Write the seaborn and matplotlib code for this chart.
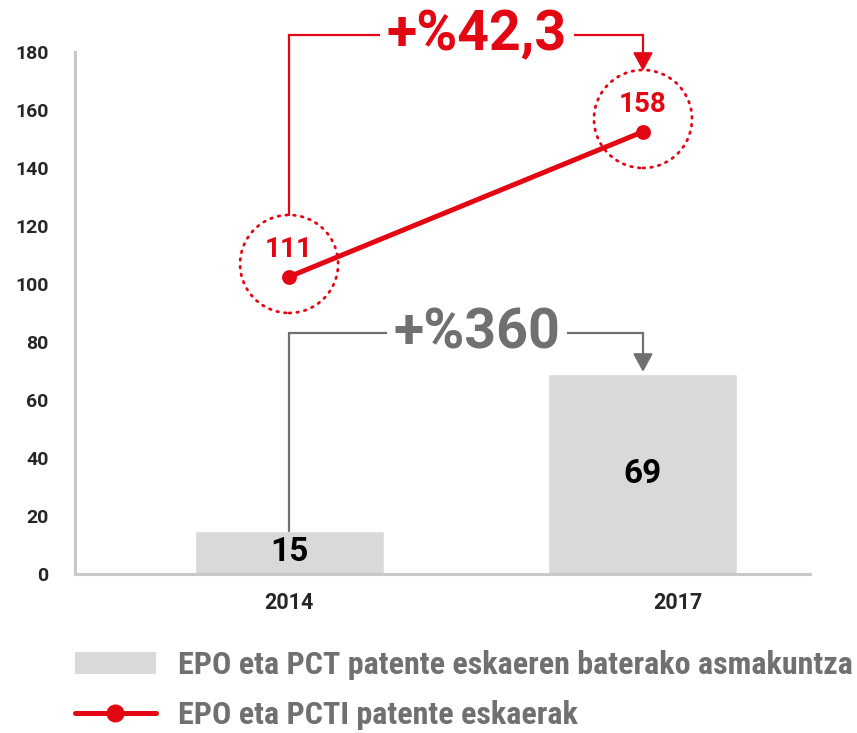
import matplotlib
matplotlib.use("Agg")
import matplotlib.pyplot as plt
import matplotlib.transforms as mtransforms
from matplotlib.patches import Ellipse, Patch
from matplotlib.lines import Line2D
import seaborn as sns

# Data
years = ["2014", "2017"]
bar_vals = [15, 69]
line_labels = ["111", "158"]
line_pos = [102.5, 152.5]   # where the points sit on the y scale in the picture
bar_change = "+%360"
line_change = "+%42,3"
bar_name = "EPO eta PCT patente eskaeren baterako asmakuntza"
line_name = "EPO eta PCTI patente eskaerak"

RED = "#e30613"
DGRAY = "#707070"
BAR = "#d9d9d9"
AXC = "#c8c8c8"

sns.set_style("white")
plt.rcParams["font.family"] = ["Roboto", "DejaVu Sans"]

fig = plt.figure(figsize=(8.57, 7.33), dpi=100)
ax = fig.add_axes([75 / 857, 1 - 574 / 733, 735 / 857, 522 / 733])

sns.barplot(x=years, y=bar_vals, color=BAR, width=0.534, saturation=1, ax=ax)
sns.pointplot(x=years, y=line_pos, color=RED, markers="o", markersize=8,
              linewidth=3.6, errorbar=None, ax=ax)

ax.set_xlim(-0.605, 1.472)
ax.set_ylim(0, 180)

# axes styling
sns.despine(ax=ax)
for s in ["left", "bottom"]:
    ax.spines[s].set_color(AXC)
    ax.spines[s].set_linewidth(2.2)
ax.set_yticks(range(0, 181, 20))
ax.set_yticks(range(10, 180, 20), minor=True)
ax.tick_params(axis="y", which="major", direction="in", length=27, width=1.6,
               color=AXC, pad=19, labelsize=14)
ax.tick_params(axis="y", which="minor", direction="in", length=9.5, width=1.6,
               color=AXC)
ax.tick_params(axis="x", length=0, pad=13, labelsize=15.5)
for lab in ax.get_yticklabels() + ax.get_xticklabels():
    lab.set_fontweight("bold")
lab2 = ax.get_xticklabels()[1]
lab2.set_transform(lab2.get_transform() + mtransforms.ScaledTranslation(0.35, 0, fig.dpi_scale_trans))
ax.set_xlabel("")
ax.set_ylabel("")

# bar values
for i, v in enumerate(bar_vals):
    ax.text(i, v / 2, str(v), ha="center", va="center", fontsize=24,
            fontweight="bold", color="black")

# line values and dotted circles
for i, (lab, v) in enumerate(zip(line_labels, line_pos)):
    ax.text(i, v + 9.3, lab, ha="center", va="center", fontsize=20,
            fontweight="bold", color=RED)
    ax.add_patch(Ellipse((i, v + 4.4), 0.277, 33.8, fill=False, edgecolor=RED,
                         linewidth=2, linestyle=(0, (0.6, 2.2)),
                         capstyle="round", clip_on=False))

# change brackets
def bracket(y0, ytop, y1, text, col, fs):
    ax.plot([0, 0, 1, 1], [y0, ytop, ytop, y1 + 5], color=col, lw=1.6,
            clip_on=False, solid_joinstyle="miter")
    ax.annotate("", xy=(1, y1), xytext=(1, y1 + 6),
                arrowprops=dict(arrowstyle="-|>,head_length=0.55,head_width=0.3",
                                mutation_scale=20, color=col, lw=1.6,
                                shrinkA=0, shrinkB=0),
                annotation_clip=False)
    ax.text(0.531, ytop, text, ha="center", va="center", fontsize=fs,
            fontweight="bold", color=col, clip_on=False,
            bbox=dict(facecolor="white", edgecolor="none", pad=5))

bracket(line_pos[0] + 21.3, 185.9, line_pos[1] + 21, line_change, RED, 40)
bracket(bar_vals[0], 83.1, bar_vals[1] + 0.7, bar_change, DGRAY, 40)

# legend
handles = [Patch(facecolor=BAR, edgecolor="none"),
           Line2D([], [], color=RED, lw=3.6, marker="o", markersize=12)]
leg = fig.legend(handles, [bar_name, line_name], loc="upper left",
                 bbox_to_anchor=(75 / 857, 1 - 650 / 733), frameon=False,
                 prop=dict(family=["Roboto Condensed", "Liberation Sans Narrow", "Roboto"],
                           weight="bold", size=23, stretch="condensed"),
                 handlelength=2.52, handleheight=0.7, handletextpad=0.7,
                 labelspacing=0.62, borderaxespad=0, borderpad=0)
for t in leg.get_texts():
    t.set_color(DGRAY)

fig.savefig("out.png", dpi=100)
